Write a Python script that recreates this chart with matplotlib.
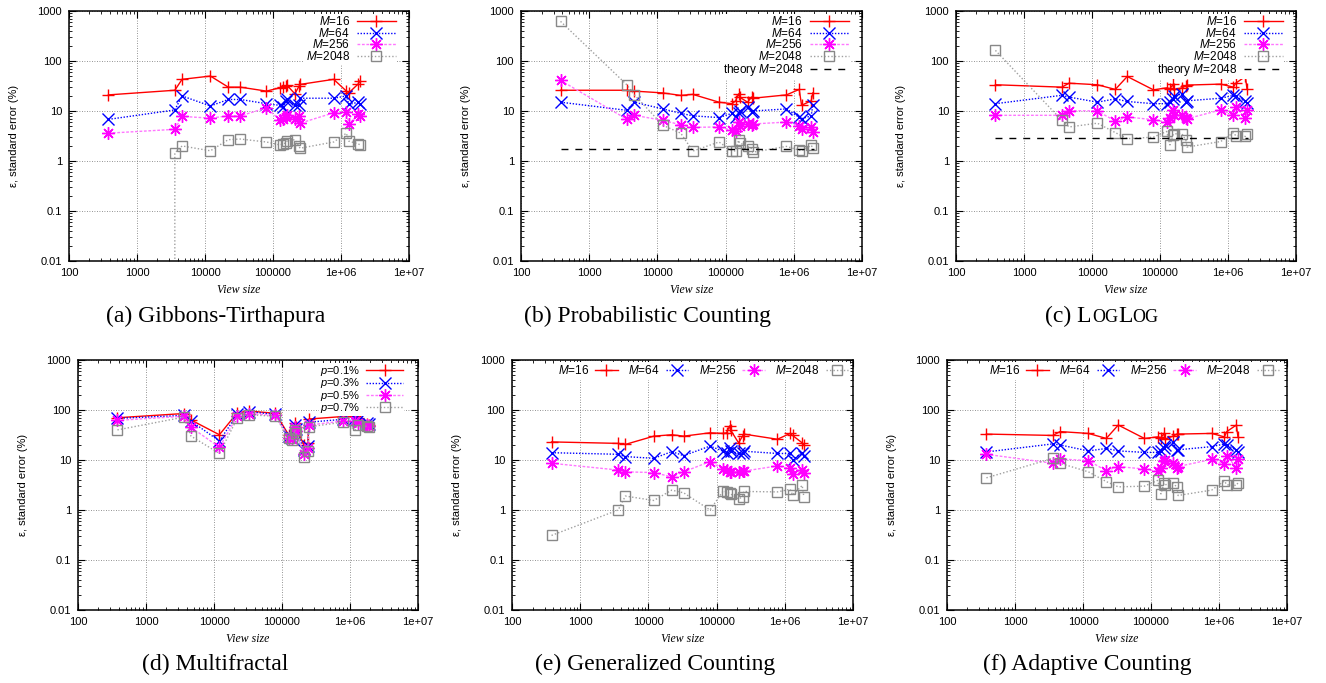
import numpy as np
import matplotlib
matplotlib.use('Agg')
import matplotlib.pyplot as plt
from matplotlib.ticker import LogLocator, NullFormatter
from matplotlib.offsetbox import TextArea, HPacker, AnnotationBbox

plt.rcParams['font.family'] = ['Liberation Sans', 'DejaVu Sans']
plt.rcParams['mathtext.fontset'] = 'custom'
plt.rcParams['mathtext.it'] = 'Liberation Sans:italic'
plt.rcParams['mathtext.rm'] = 'Liberation Sans'

# view sizes (shared by all panels)
view = [380, 3600, 4600, 12000, 22000, 33000, 80000, 125000, 140000, 155000,
        160000, 210000, 240000, 250000, 780000, 1200000, 1300000, 1800000, 1900000]

xticks = [100, 1000, 10000, 100000, 1e6, 1e7]
xticklabels = ['100', '1000', '10000', '100000', '1e+06', '1e+07']
yticks = [0.01, 0.1, 1, 10, 100, 1000]
yticklabels = ['0.01', '0.1', '1', '10', '100', '1000']

m_labels = [r'$M$=16', r'$M$=64', r'$M$=256', r'$M$=2048']
p_labels = [r'$p$=0.1%', r'$p$=0.3%', r'$p$=0.5%', r'$p$=0.7%']

# (a) Gibbons-Tirthapura
gt_m16 = [21, 26, 43, 50, 30, 30, 25, 29, 30, 31, 33, 22, 31, 34, 43, 25, 23, 35, 40]
gt_m64 = [6.8, 10.5, 20, 12.6, 17, 17, 14, 13, 12, 16, 17, 13, 13, 18, 18, 20, 13.5, 15, 14]
gt_m256 = [3.6, 4.3, 7.8, 7.2, 8, 8, 11.5, 6.7, 7, 7.5, 8.5, 6.8, 8, 5.7, 9.2, 9.6, 5.5, 8.6, 7.8]
gt_x2048 = [view[1]] + view[1:]
gt_m2048 = [0.001, 1.45, 2.0, 1.6, 2.67, 2.75, 2.4, 2.1, 2.2, 2.3, 2.5, 2.67, 1.97, 1.8, 2.4,
            3.6, 2.5, 2.2, 2.1]

# (b) Probabilistic Counting
pc_m16 = [26, 26, 25, 23, 20.5, 21.5, 15, 14, 16, 22, 19, 15, 19, 18, 21, 27, 13, 16, 23]
pc_m64 = [15, 10.3, 15, 11, 9, 8, 7.4, 9, 7.5, 9, 10, 12, 9.5, 10, 11, 7.5, 7, 8, 13]
pc_m256 = [41, 6.8, 8.2, 6.5, 5.3, 4.7, 4.8, 4.1, 3.9, 6.0, 5.0, 5.6, 5.3, 5.5, 6.0, 5.1, 4.3, 4.7, 3.8]
pc_m2048 = [620, 33, 21, 5.2, 3.6, 1.58, 2.4, 1.57, 1.6, 2.6, 2.3, 1.96, 1.75, 1.5, 1.96,
            1.65, 1.6, 2.05, 1.85]
pc_theory = 1.72

# (c) LogLog
ll_m16 = [33.5, 30, 36, 33.5, 27, 49, 26.5, 29, 28, 34, 27, 29, 32, 33, 34.5, 30, 36, 49, 28]
ll_m64 = [14, 20.6, 19, 15, 17.5, 15.5, 14, 14, 15, 17, 20, 22, 15, 16, 18, 20.5, 19.5, 15.5, 14.5]
ll_m256 = [8.2, 8.2, 10.2, 10, 6.3, 7.6, 6.7, 6.0, 7.2, 10.5, 8.5, 8.3, 7.2, 7.0, 10.5, 8.2, 12.2, 7.2, 10.5]
ll_m2048 = [163, 6.5, 4.8, 5.7, 3.7, 2.8, 3.0, 3.9, 2.1, 3.3, 3.5, 3.5, 2.6, 1.9, 2.45,
            3.7, 3.2, 3.1, 3.4]
ll_theory = 2.9

theory_x = [380, 2000000]

# (d) Multifractal
mf_p01 = [70, 85, 63, 32, 88, 95, 86, 32, 30, 55, 45, 20, 22, 66, 74, 76, 70, 52, 50]
mf_p03 = [68, 78, 60, 24, 82, 92, 82, 30, 28, 50, 42, 16, 19, 57, 65, 68, 62, 55, 52]
mf_p05 = [62, 75, 45, 18, 75, 85, 78, 28, 26, 45, 38, 13, 17, 50, 60, 60, 55, 50, 48]
mf_p07 = [40, 72, 30, 13.5, 68, 80, 75, 27, 25, 40, 35, 11.5, 15, 46, 57, 40, 50, 47, 45]

# (e) Generalized Counting
gc_m16 = [23, 21.5, 20.5, 30, 32, 30, 35, 34, 35, 48, 40, 22, 30, 33, 26, 34, 31, 22, 20]
gc_m64 = [14, 13, 11.7, 10.8, 14.7, 12.2, 19, 15, 14, 17, 15, 13.5, 13.5, 15, 13.5, 13.5, 10, 14, 12]
gc_m256 = [8.6, 6.3, 5.8, 5.6, 4.6, 5.8, 9.3, 6.5, 6.2, 5.8, 5.8, 5.7, 5.9, 6.0, 7.6, 6.8, 5.2, 6.3, 5.4]
gc_m2048 = [0.31, 1.0, 1.9, 1.55, 2.5, 2.2, 1.0, 2.4, 2.3, 2.15, 2.1, 1.65, 1.85, 2.35, 2.3,
            2.6, 2.0, 3.1, 1.85]

# (f) Adaptive Counting
ac_m16 = [33, 31, 37, 34, 27, 50, 27, 29, 28, 34, 26, 30, 33, 33, 34, 29, 37, 50, 29]
ac_m64 = [14.5, 21, 20, 15.2, 17, 15.2, 14.2, 14.2, 15, 17.5, 20, 23, 15.5, 16, 18.5, 21, 20, 15.8, 14.5]
ac_m256 = [13, 8.6, 10.5, 9.7, 6.1, 7.4, 6.6, 5.9, 7.0, 9.5, 10, 8.6, 7, 7.4, 10.3, 8.2, 12.2, 7, 10.5]
ac_m2048 = [4.4, 10.8, 8.6, 5.8, 3.7, 2.9, 3.0, 3.9, 2.1, 3.4, 3.2, 3.4, 2.9, 1.95, 2.5,
            3.8, 3.2, 3.1, 3.5]

STYLES = [
    dict(color='#ff0000', ls='-', lw=1.0, marker='+', ms=9, mew=1.0),
    dict(color='#0000ff', ls=(0, (1, 1.2)), lw=1.0, marker='x', ms=8, mew=1.0),
    dict(color='#ff77ff', ls=(0, (2, 1.2)), lw=1.0, marker=(8, 2, 0), ms=9, mew=1.0,
         mec='#ff00ff'),
    dict(color='#a0a0a0', ls=(0, (1, 1.5)), lw=1.0, marker='s', ms=7, mew=1.0,
         mec='#888888', mfc='none'),
]

W, H = 1326, 683
fig = plt.figure(figsize=(W / 100, H / 100), dpi=100)


def make_axes(left, top, right, bottom):
    ax = fig.add_axes([left / W, 1 - bottom / H, (right - left) / W, (bottom - top) / H])
    ax.set_xscale('log')
    ax.set_yscale('log')
    ax.set_xlim(100, 1e7)
    ax.set_ylim(0.01, 1000)
    ax.set_xticks(xticks, xticklabels)
    ax.set_yticks(yticks, yticklabels)
    ax.xaxis.set_minor_locator(LogLocator(10, subs=np.arange(2, 10), numticks=20))
    ax.yaxis.set_minor_locator(LogLocator(10, subs=np.arange(2, 10), numticks=20))
    ax.xaxis.set_minor_formatter(NullFormatter())
    ax.yaxis.set_minor_formatter(NullFormatter())
    ax.tick_params(which='both', direction='in', top=True, right=True, labelsize=8)
    ax.tick_params(which='major', length=5, width=0.8, pad=5)
    ax.tick_params(which='minor', length=2.5, width=0.6)
    ax.grid(True, which='major', color='#707070', ls=(0, (1, 2)), lw=0.6)
    for s in ax.spines.values():
        s.set_linewidth(1.1)
    ax.set_ylabel('ε, standard error (%)', fontsize=8)
    ax.yaxis.set_label_coords(-50 / (right - left), 0.5)
    ax.set_xlabel('View size', fontsize=8.5, family='Liberation Serif', style='italic')
    ax.xaxis.set_label_coords(0.5, -23 / (bottom - top))
    return ax


def draw(ax, series, labels, xs=None):
    for i, (y, lab) in enumerate(zip(series, labels)):
        x = view if xs is None or xs[i] is None else xs[i]
        ax.plot(x, y, label=lab, **STYLES[i])


def vlegend(ax, dx=10, spacing=-0.12, size=8.5):
    leg = ax.legend(loc='upper right', markerfirst=False, fontsize=size, handlelength=3.3,
                    handletextpad=0.6, labelspacing=spacing, borderpad=0.1, handleheight=0.6,
                    fancybox=False, edgecolor='none', facecolor='white', framealpha=1,
                    bbox_to_anchor=(1 - dx / 340, 1 - 3 / 250), borderaxespad=0)
    leg.set_zorder(5)


def hlegend(ax, cx):
    leg = ax.legend(loc='upper center', ncol=4, markerfirst=False, fontsize=8.5,
                    handlelength=1.9, handletextpad=0.5, columnspacing=0.9, borderpad=0.2,
                    fancybox=False, edgecolor='none', facecolor='white', framealpha=1,
                    bbox_to_anchor=(cx, 1 - 2 / 250), borderaxespad=0)
    leg.set_zorder(5)


# top row
ax_a = make_axes(69, 11, 409, 261)
draw(ax_a, [gt_m16, gt_m64, gt_m256, gt_m2048], m_labels, xs=[None, None, None, gt_x2048])
vlegend(ax_a, 12)

ax_b = make_axes(521, 11, 862, 261)
draw(ax_b, [pc_m16, pc_m64, pc_m256, pc_m2048], m_labels)
ax_b.plot(theory_x, [pc_theory] * 2, color='black', ls=(0, (5, 5)), lw=1.0,
          label=r'theory $M$=2048')
vlegend(ax_b, 12)

ax_c = make_axes(956, 11, 1296, 261)
draw(ax_c, [ll_m16, ll_m64, ll_m256, ll_m2048], m_labels)
ax_c.plot(theory_x, [ll_theory] * 2, color='black', ls=(0, (5, 5)), lw=1.0,
          label=r'theory $M$=2048')
vlegend(ax_c, 12)

# bottom row
ax_d = make_axes(78, 360, 418, 610)
draw(ax_d, [mf_p01, mf_p03, mf_p05, mf_p07], p_labels)
vlegend(ax_d, 14, spacing=-0.15, size=8)

ax_e = make_axes(512, 360, 853, 610)
draw(ax_e, [gc_m16, gc_m64, gc_m256, gc_m2048], m_labels)
hlegend(ax_e, 0.56)

ax_f = make_axes(947, 360, 1287, 610)
draw(ax_f, [ac_m16, ac_m64, ac_m256, ac_m2048], m_labels)
hlegend(ax_f, 0.55)

# captions
cap = dict(fontsize=17, family='Liberation Serif', ha='center', va='center')
fig.text(216 / W, 1 - 316 / H, '(a) Gibbons-Tirthapura', **cap)
fig.text(648 / W, 1 - 316 / H, '(b) Probabilistic Counting', **cap)
fig.text(215 / W, 1 - 664 / H, '(d) Multifractal', **cap)
fig.text(655 / W, 1 - 664 / H, '(e) Generalized Counting', **cap)
fig.text(1087 / W, 1 - 664 / H, '(f) Adaptive Counting', **cap)

# (c) LogLog in small caps
big = dict(fontsize=17, family='Liberation Serif')
small = dict(fontsize=13, family='Liberation Serif')
parts = [TextArea('(c) L', textprops=big), TextArea('OG', textprops=small),
         TextArea('L', textprops=big), TextArea('OG', textprops=small)]
box = HPacker(children=parts, align='baseline', pad=0, sep=0)
fig.add_artist(AnnotationBbox(box, (1102 / W, 1 - 316 / H), xycoords='figure fraction',
                              frameon=False, box_alignment=(0.5, 0.5), pad=0))

fig.savefig('out.png', dpi=100)
